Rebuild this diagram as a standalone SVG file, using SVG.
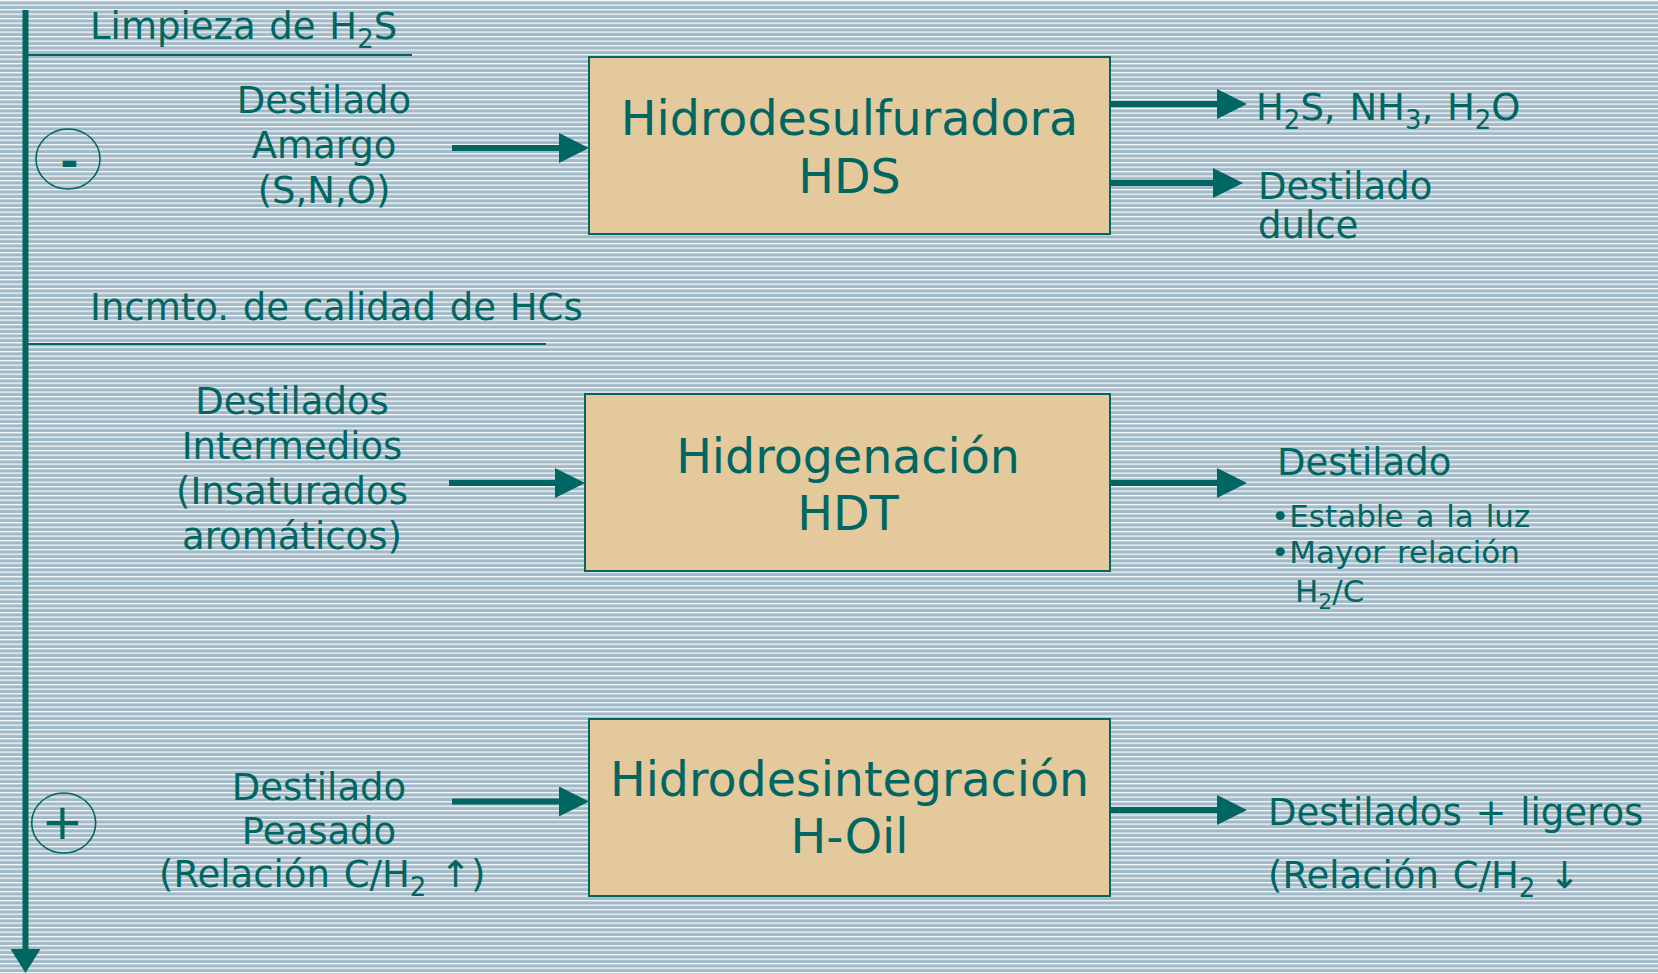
<svg xmlns="http://www.w3.org/2000/svg" width="1658" height="974" viewBox="0 0 1658 974">
<defs>
<pattern id="stripes" patternUnits="userSpaceOnUse" width="10" height="4.5">
<rect width="10" height="4.5" fill="#a2b9c7"/>
<rect y="0" width="10" height="1.3" fill="#f6f8fa"/>
</pattern>
<marker id="ah" markerUnits="userSpaceOnUse" markerWidth="30" markerHeight="30" refX="10" refY="15" orient="auto">
<path d="M0,0 L30,15 L0,30 z" fill="#006661"/>
</marker>
<marker id="ahv" markerUnits="userSpaceOnUse" markerWidth="24" markerHeight="30" refX="8" refY="15" orient="auto">
<path d="M0,0 L24,15 L0,30 z" fill="#006661"/>
</marker>
</defs>
<style>
.t{font-family:"DejaVu Sans","Verdana",sans-serif;fill:#006661;}
.s{font-size:37px;word-spacing:2px;}
.b{font-size:47.5px;}
.m{font-size:31px;word-spacing:2px;}
.box{fill:#e3c99c;stroke:#006661;stroke-width:2;}
.conn{stroke:#006661;stroke-width:6;fill:none;}
.rule{stroke:#006661;stroke-width:2;fill:none;}
.circ{stroke:#006661;stroke-width:1.6;fill:none;}
</style>
<rect width="1658" height="974" fill="url(#stripes)"/>

<g id="connectors">
<line class="conn" x1="25.5" y1="10" x2="25.5" y2="957" marker-end="url(#ahv)"/>
<line class="conn" x1="452" y1="148" x2="569" y2="148" marker-end="url(#ah)"/>
<line class="conn" x1="1110" y1="104" x2="1227" y2="104" marker-end="url(#ah)"/>
<line class="conn" x1="1107" y1="183" x2="1223" y2="183" marker-end="url(#ah)"/>
<line class="conn" x1="449" y1="483" x2="565" y2="483" marker-end="url(#ah)"/>
<line class="conn" x1="1110" y1="483" x2="1227" y2="483" marker-end="url(#ah)"/>
<line class="conn" x1="452" y1="801.5" x2="569" y2="801.5" marker-end="url(#ah)"/>
<line class="conn" x1="1110" y1="810" x2="1227" y2="810" marker-end="url(#ah)"/>
</g>

<g id="section-limpieza">
<text class="t s" x="90" y="39">Limpieza de H<tspan font-size="26" dy="9">2</tspan><tspan dy="-9">S</tspan></text>
<line class="rule" x1="28" y1="55" x2="412" y2="55"/>
</g>

<g id="section-calidad">
<text class="t s" x="90" y="320">Incmto. de calidad de HCs</text>
<line class="rule" x1="28" y1="344" x2="546" y2="344"/>
</g>

<g id="sign-minus">
<ellipse class="circ" cx="68" cy="159" rx="32" ry="30"/>
<text class="t" x="69.5" y="177" font-size="44" font-weight="bold" text-anchor="middle">-</text>
</g>

<g id="sign-plus">
<ellipse class="circ" cx="63.7" cy="823" rx="32" ry="30"/>
<text class="t" x="62.5" y="839" font-size="50" text-anchor="middle">+</text>
</g>

<g id="input-hds">
<text class="t s" text-anchor="middle"><tspan x="324" y="113">Destilado</tspan><tspan x="324" y="158">Amargo</tspan><tspan x="324" y="203">(S,N,O)</tspan></text>
</g>

<g id="node-hds">
<rect class="box" x="589" y="57" width="521" height="177"/>
<text class="t b" text-anchor="middle"><tspan x="849.5" y="135">Hidrodesulfuradora</tspan><tspan x="849.5" y="193">HDS</tspan></text>
</g>

<g id="output-hds-gases">
<text class="t s" x="1256" y="120">H<tspan font-size="26" dy="9">2</tspan><tspan dy="-9">S, NH</tspan><tspan font-size="26" dy="9">3</tspan><tspan dy="-9">, H</tspan><tspan font-size="26" dy="9">2</tspan><tspan dy="-9">O</tspan></text>
</g>

<g id="output-hds-dulce">
<text class="t s"><tspan x="1258" y="199">Destilado</tspan><tspan x="1258" y="238">dulce</tspan></text>
</g>

<g id="input-hdt">
<text class="t s" text-anchor="middle"><tspan x="292" y="414">Destilados</tspan><tspan x="292" y="459">Intermedios</tspan><tspan x="292" y="504">(Insaturados</tspan><tspan x="292" y="549">aromáticos)</tspan></text>
</g>

<g id="node-hdt">
<rect class="box" x="585" y="394" width="525" height="177"/>
<text class="t b" text-anchor="middle"><tspan x="848" y="473">Hidrogenación</tspan><tspan x="848" y="530">HDT</tspan></text>
</g>

<g id="output-hdt">
<text class="t s" x="1277" y="475">Destilado</text>
<text class="t m" x="1271" y="527">•Estable a la luz</text>
<text class="t m" x="1271" y="563">•Mayor relación</text>
<text class="t m" x="1295" y="602">H<tspan font-size="22" dy="7">2</tspan><tspan dy="-7">/C</tspan></text>
</g>

<g id="input-hoil">
<text class="t s" text-anchor="middle"><tspan x="319" y="800">Destilado</tspan><tspan x="319" y="844">Peasado</tspan></text>
<text class="t s" x="159" y="887">(Relación C/H<tspan font-size="26" dy="9">2</tspan><tspan dy="-9"> ↑)</tspan></text>
</g>

<g id="node-hoil">
<rect class="box" x="589" y="719" width="521" height="177"/>
<text class="t b" text-anchor="middle"><tspan x="849.5" y="796">Hidrodesintegración</tspan><tspan x="849.5" y="853">H-Oil</tspan></text>
</g>

<g id="output-hoil">
<text class="t s" x="1268" y="825">Destilados + ligeros</text>
<text class="t s" x="1268" y="888">(Relación C/H<tspan font-size="26" dy="9">2</tspan><tspan dy="-9"> ↓</tspan></text>
</g>
</svg>
